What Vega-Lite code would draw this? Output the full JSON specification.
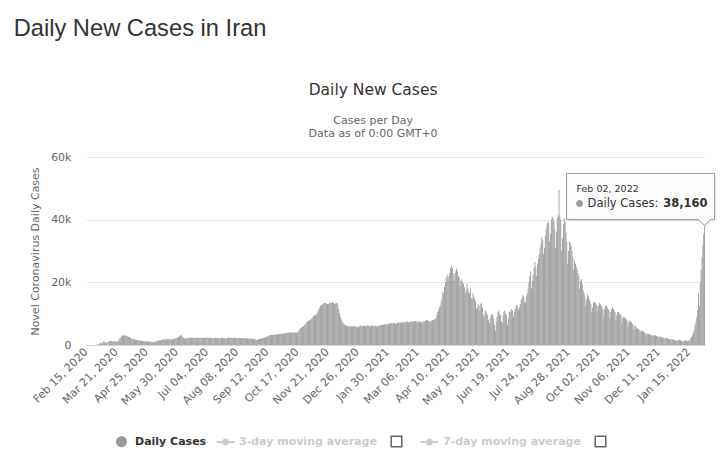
{
"$schema":"https://vega.github.io/schema/vega-lite/v6.json",
"background":"white",
"padding":{"left":13,"top":16,"right":0,"bottom":0},
"config":{"view":{"stroke":null},"font":"DejaVu Sans"},
"title":{"text":"Daily New Cases in Iran","anchor":"start","font":"Liberation Sans","fontSize":23.7,"fontWeight":"normal","color":"#333333","dx":-16,"offset":42},
"vconcat":[{
"width":619,"height":188,
"title":{"text":"Daily New Cases","subtitle":["Cases per Day","Data as of 0:00 GMT+0"],"font":"DejaVu Sans","fontSize":15.5,"fontWeight":"normal","color":"#333333","subtitleFont":"DejaVu Sans","subtitleFontSize":11,"subtitleColor":"#666666","subtitlePadding":17,"anchor":"middle","frame":"bounds","offset":12},
"data":{"values":[
{"d":"2020-02-15","c":0},{"d":"2020-02-16","c":0},{"d":"2020-02-17","c":0},{"d":"2020-02-18","c":0},{"d":"2020-02-19","c":2},{"d":"2020-02-20","c":3},{"d":"2020-02-21","c":13},{"d":"2020-02-22","c":10},{"d":"2020-02-23","c":15},{"d":"2020-02-24","c":18},{"d":"2020-02-25","c":34},{"d":"2020-02-26","c":44},{"d":"2020-02-27","c":106},{"d":"2020-02-28","c":143},{"d":"2020-02-29","c":205},
{"d":"2020-03-01","c":385},{"d":"2020-03-02","c":523},{"d":"2020-03-03","c":835},{"d":"2020-03-04","c":586},{"d":"2020-03-05","c":591},{"d":"2020-03-06","c":1234},{"d":"2020-03-07","c":1076},{"d":"2020-03-08","c":743},{"d":"2020-03-09","c":595},{"d":"2020-03-10","c":881},{"d":"2020-03-11","c":958},{"d":"2020-03-12","c":1075},{"d":"2020-03-13","c":1289},{"d":"2020-03-14","c":1365},{"d":"2020-03-15","c":1209},{"d":"2020-03-16","c":1053},{"d":"2020-03-17","c":1178},{"d":"2020-03-18","c":1192},{"d":"2020-03-19","c":1046},{"d":"2020-03-20","c":1237},{"d":"2020-03-21","c":966},{"d":"2020-03-22","c":1028},{"d":"2020-03-23","c":1411},{"d":"2020-03-24","c":1762},{"d":"2020-03-25","c":2206},{"d":"2020-03-26","c":2389},{"d":"2020-03-27","c":2926},{"d":"2020-03-28","c":3076},{"d":"2020-03-29","c":2901},{"d":"2020-03-30","c":3186},{"d":"2020-03-31","c":3110},
{"d":"2020-04-01","c":2987},{"d":"2020-04-02","c":2875},{"d":"2020-04-03","c":2715},{"d":"2020-04-04","c":2560},{"d":"2020-04-05","c":2483},{"d":"2020-04-06","c":2274},{"d":"2020-04-07","c":2089},{"d":"2020-04-08","c":1997},{"d":"2020-04-09","c":1634},{"d":"2020-04-10","c":1972},{"d":"2020-04-11","c":1837},{"d":"2020-04-12","c":1657},{"d":"2020-04-13","c":1617},{"d":"2020-04-14","c":1574},{"d":"2020-04-15","c":1512},{"d":"2020-04-16","c":1606},{"d":"2020-04-17","c":1499},{"d":"2020-04-18","c":1374},{"d":"2020-04-19","c":1343},{"d":"2020-04-20","c":1294},{"d":"2020-04-21","c":1297},{"d":"2020-04-22","c":1194},{"d":"2020-04-23","c":1030},{"d":"2020-04-24","c":1134},{"d":"2020-04-25","c":1168},{"d":"2020-04-26","c":1153},{"d":"2020-04-27","c":1144},{"d":"2020-04-28","c":991},{"d":"2020-04-29","c":1112},{"d":"2020-04-30","c":1073},
{"d":"2020-05-01","c":1000},{"d":"2020-05-02","c":950},{"d":"2020-05-03","c":850},{"d":"2020-05-04","c":900},{"d":"2020-05-05","c":1000},{"d":"2020-05-06","c":1100},{"d":"2020-05-07","c":1300},{"d":"2020-05-08","c":1400},{"d":"2020-05-09","c":1500},{"d":"2020-05-10","c":1400},{"d":"2020-05-11","c":1500},{"d":"2020-05-12","c":1600},{"d":"2020-05-13","c":1700},{"d":"2020-05-14","c":1800},{"d":"2020-05-15","c":1900},{"d":"2020-05-16","c":1800},{"d":"2020-05-17","c":1700},{"d":"2020-05-18","c":1800},{"d":"2020-05-19","c":1900},{"d":"2020-05-20","c":1800},{"d":"2020-05-21","c":1900},{"d":"2020-05-22","c":1800},{"d":"2020-05-23","c":1800},{"d":"2020-05-24","c":1700},{"d":"2020-05-25","c":1800},{"d":"2020-05-26","c":1900},{"d":"2020-05-27","c":2000},{"d":"2020-05-28","c":2000},{"d":"2020-05-29","c":2200},{"d":"2020-05-30","c":2300},{"d":"2020-05-31","c":2400},
{"d":"2020-06-01","c":2600},{"d":"2020-06-02","c":2800},{"d":"2020-06-03","c":3000},{"d":"2020-06-04","c":3200},{"d":"2020-06-05","c":2900},{"d":"2020-06-06","c":2500},{"d":"2020-06-07","c":2300},{"d":"2020-06-08","c":2100},{"d":"2020-06-09","c":2100},{"d":"2020-06-10","c":2100},{"d":"2020-06-11","c":2200},{"d":"2020-06-12","c":2300},{"d":"2020-06-13","c":2300},{"d":"2020-06-14","c":2300},{"d":"2020-06-15","c":2300},{"d":"2020-06-16","c":2400},{"d":"2020-06-17","c":2300},{"d":"2020-06-18","c":2300},{"d":"2020-06-19","c":2300},{"d":"2020-06-20","c":2200},{"d":"2020-06-21","c":2200},{"d":"2020-06-22","c":2300},{"d":"2020-06-23","c":2300},{"d":"2020-06-24","c":2200},{"d":"2020-06-25","c":2300},{"d":"2020-06-26","c":2200},{"d":"2020-06-27","c":2300},{"d":"2020-06-28","c":2300},{"d":"2020-06-29","c":2200},{"d":"2020-06-30","c":2200},
{"d":"2020-07-01","c":2300},{"d":"2020-07-02","c":2350},{"d":"2020-07-03","c":2400},{"d":"2020-07-04","c":2300},{"d":"2020-07-05","c":2350},{"d":"2020-07-06","c":2250},{"d":"2020-07-07","c":2350},{"d":"2020-07-08","c":2400},{"d":"2020-07-09","c":2300},{"d":"2020-07-10","c":2200},{"d":"2020-07-11","c":2150},{"d":"2020-07-12","c":2100},{"d":"2020-07-13","c":2200},{"d":"2020-07-14","c":2300},{"d":"2020-07-15","c":2200},{"d":"2020-07-16","c":2200},{"d":"2020-07-17","c":2300},{"d":"2020-07-18","c":2100},{"d":"2020-07-19","c":2100},{"d":"2020-07-20","c":2200},{"d":"2020-07-21","c":2350},{"d":"2020-07-22","c":2300},{"d":"2020-07-23","c":2300},{"d":"2020-07-24","c":2200},{"d":"2020-07-25","c":2150},{"d":"2020-07-26","c":2150},{"d":"2020-07-27","c":2100},{"d":"2020-07-28","c":2300},{"d":"2020-07-29","c":2300},{"d":"2020-07-30","c":2200},{"d":"2020-07-31","c":2300},
{"d":"2020-08-01","c":2300},{"d":"2020-08-02","c":2300},{"d":"2020-08-03","c":2200},{"d":"2020-08-04","c":2300},{"d":"2020-08-05","c":2200},{"d":"2020-08-06","c":2300},{"d":"2020-08-07","c":2200},{"d":"2020-08-08","c":2100},{"d":"2020-08-09","c":2200},{"d":"2020-08-10","c":2300},{"d":"2020-08-11","c":2200},{"d":"2020-08-12","c":2200},{"d":"2020-08-13","c":2100},{"d":"2020-08-14","c":2200},{"d":"2020-08-15","c":2200},{"d":"2020-08-16","c":2100},{"d":"2020-08-17","c":2200},{"d":"2020-08-18","c":2200},{"d":"2020-08-19","c":2100},{"d":"2020-08-20","c":2100},{"d":"2020-08-21","c":2100},{"d":"2020-08-22","c":2000},{"d":"2020-08-23","c":2000},{"d":"2020-08-24","c":2100},{"d":"2020-08-25","c":2000},{"d":"2020-08-26","c":2000},{"d":"2020-08-27","c":1900},{"d":"2020-08-28","c":1900},{"d":"2020-08-29","c":1800},{"d":"2020-08-30","c":1700},{"d":"2020-08-31","c":1600},
{"d":"2020-09-01","c":1700},{"d":"2020-09-02","c":1800},{"d":"2020-09-03","c":1900},{"d":"2020-09-04","c":2000},{"d":"2020-09-05","c":2100},{"d":"2020-09-06","c":2100},{"d":"2020-09-07","c":2200},{"d":"2020-09-08","c":2300},{"d":"2020-09-09","c":2400},{"d":"2020-09-10","c":2500},{"d":"2020-09-11","c":2600},{"d":"2020-09-12","c":2700},{"d":"2020-09-13","c":2900},{"d":"2020-09-14","c":3000},{"d":"2020-09-15","c":3100},{"d":"2020-09-16","c":3200},{"d":"2020-09-17","c":3300},{"d":"2020-09-18","c":3200},{"d":"2020-09-19","c":3300},{"d":"2020-09-20","c":3400},{"d":"2020-09-21","c":3300},{"d":"2020-09-22","c":3400},{"d":"2020-09-23","c":3300},{"d":"2020-09-24","c":3400},{"d":"2020-09-25","c":3500},{"d":"2020-09-26","c":3400},{"d":"2020-09-27","c":3500},{"d":"2020-09-28","c":3600},{"d":"2020-09-29","c":3700},{"d":"2020-09-30","c":3600},
{"d":"2020-10-01","c":3700},{"d":"2020-10-02","c":3600},{"d":"2020-10-03","c":3700},{"d":"2020-10-04","c":3900},{"d":"2020-10-05","c":3800},{"d":"2020-10-06","c":3900},{"d":"2020-10-07","c":4000},{"d":"2020-10-08","c":3900},{"d":"2020-10-09","c":4100},{"d":"2020-10-10","c":3800},{"d":"2020-10-11","c":3900},{"d":"2020-10-12","c":4000},{"d":"2020-10-13","c":4100},{"d":"2020-10-14","c":4000},{"d":"2020-10-15","c":3900},{"d":"2020-10-16","c":4000},{"d":"2020-10-17","c":4000},{"d":"2020-10-18","c":4200},{"d":"2020-10-19","c":4700},{"d":"2020-10-20","c":5200},{"d":"2020-10-21","c":5400},{"d":"2020-10-22","c":5600},{"d":"2020-10-23","c":5800},{"d":"2020-10-24","c":6000},{"d":"2020-10-25","c":6300},{"d":"2020-10-26","c":6600},{"d":"2020-10-27","c":6900},{"d":"2020-10-28","c":7300},{"d":"2020-10-29","c":7600},{"d":"2020-10-30","c":7700},{"d":"2020-10-31","c":7800},
{"d":"2020-11-01","c":8000},{"d":"2020-11-02","c":8300},{"d":"2020-11-03","c":8600},{"d":"2020-11-04","c":8900},{"d":"2020-11-05","c":9300},{"d":"2020-11-06","c":9500},{"d":"2020-11-07","c":9400},{"d":"2020-11-08","c":9800},{"d":"2020-11-09","c":10300},{"d":"2020-11-10","c":10800},{"d":"2020-11-11","c":11500},{"d":"2020-11-12","c":12000},{"d":"2020-11-13","c":12500},{"d":"2020-11-14","c":12800},{"d":"2020-11-15","c":13000},{"d":"2020-11-16","c":13200},{"d":"2020-11-17","c":13400},{"d":"2020-11-18","c":13300},{"d":"2020-11-19","c":13400},{"d":"2020-11-20","c":13200},{"d":"2020-11-21","c":13100},{"d":"2020-11-22","c":13000},{"d":"2020-11-23","c":13300},{"d":"2020-11-24","c":13600},{"d":"2020-11-25","c":13400},{"d":"2020-11-26","c":13500},{"d":"2020-11-27","c":13700},{"d":"2020-11-28","c":13400},{"d":"2020-11-29","c":13100},{"d":"2020-11-30","c":13300},
{"d":"2020-12-01","c":13500},{"d":"2020-12-02","c":13400},{"d":"2020-12-03","c":13000},{"d":"2020-12-04","c":11500},{"d":"2020-12-05","c":10200},{"d":"2020-12-06","c":9000},{"d":"2020-12-07","c":8200},{"d":"2020-12-08","c":7500},{"d":"2020-12-09","c":7000},{"d":"2020-12-10","c":6700},{"d":"2020-12-11","c":6500},{"d":"2020-12-12","c":6300},{"d":"2020-12-13","c":6200},{"d":"2020-12-14","c":6100},{"d":"2020-12-15","c":6000},{"d":"2020-12-16","c":6000},{"d":"2020-12-17","c":5900},{"d":"2020-12-18","c":5950},{"d":"2020-12-19","c":6000},{"d":"2020-12-20","c":5900},{"d":"2020-12-21","c":6000},{"d":"2020-12-22","c":6100},{"d":"2020-12-23","c":5900},{"d":"2020-12-24","c":6000},{"d":"2020-12-25","c":5800},{"d":"2020-12-26","c":5700},{"d":"2020-12-27","c":5800},{"d":"2020-12-28","c":5900},{"d":"2020-12-29","c":6100},{"d":"2020-12-30","c":6200},{"d":"2020-12-31","c":6000},
{"d":"2021-01-01","c":6000},{"d":"2021-01-02","c":6100},{"d":"2021-01-03","c":6200},{"d":"2021-01-04","c":5900},{"d":"2021-01-05","c":6100},{"d":"2021-01-06","c":6200},{"d":"2021-01-07","c":6300},{"d":"2021-01-08","c":6100},{"d":"2021-01-09","c":6000},{"d":"2021-01-10","c":5800},{"d":"2021-01-11","c":6200},{"d":"2021-01-12","c":6300},{"d":"2021-01-13","c":6100},{"d":"2021-01-14","c":6000},{"d":"2021-01-15","c":6200},{"d":"2021-01-16","c":6100},{"d":"2021-01-17","c":5900},{"d":"2021-01-18","c":6000},{"d":"2021-01-19","c":6200},{"d":"2021-01-20","c":6100},{"d":"2021-01-21","c":6300},{"d":"2021-01-22","c":6500},{"d":"2021-01-23","c":6400},{"d":"2021-01-24","c":6300},{"d":"2021-01-25","c":6500},{"d":"2021-01-26","c":6600},{"d":"2021-01-27","c":6700},{"d":"2021-01-28","c":6500},{"d":"2021-01-29","c":6600},{"d":"2021-01-30","c":6700},{"d":"2021-01-31","c":6800},
{"d":"2021-02-01","c":6800},{"d":"2021-02-02","c":6900},{"d":"2021-02-03","c":7000},{"d":"2021-02-04","c":6900},{"d":"2021-02-05","c":6800},{"d":"2021-02-06","c":7100},{"d":"2021-02-07","c":7000},{"d":"2021-02-08","c":6700},{"d":"2021-02-09","c":6900},{"d":"2021-02-10","c":7100},{"d":"2021-02-11","c":7200},{"d":"2021-02-12","c":7000},{"d":"2021-02-13","c":7100},{"d":"2021-02-14","c":7300},{"d":"2021-02-15","c":7200},{"d":"2021-02-16","c":7100},{"d":"2021-02-17","c":7400},{"d":"2021-02-18","c":7300},{"d":"2021-02-19","c":7200},{"d":"2021-02-20","c":7300},{"d":"2021-02-21","c":7400},{"d":"2021-02-22","c":7500},{"d":"2021-02-23","c":7200},{"d":"2021-02-24","c":7300},{"d":"2021-02-25","c":7400},{"d":"2021-02-26","c":7600},{"d":"2021-02-27","c":7500},{"d":"2021-02-28","c":7400},
{"d":"2021-03-01","c":7500},{"d":"2021-03-02","c":7600},{"d":"2021-03-03","c":7700},{"d":"2021-03-04","c":7500},{"d":"2021-03-05","c":7400},{"d":"2021-03-06","c":7600},{"d":"2021-03-07","c":7300},{"d":"2021-03-08","c":7500},{"d":"2021-03-09","c":7400},{"d":"2021-03-10","c":7300},{"d":"2021-03-11","c":7200},{"d":"2021-03-12","c":7500},{"d":"2021-03-13","c":7400},{"d":"2021-03-14","c":7600},{"d":"2021-03-15","c":7800},{"d":"2021-03-16","c":7900},{"d":"2021-03-17","c":8000},{"d":"2021-03-18","c":7700},{"d":"2021-03-19","c":7600},{"d":"2021-03-20","c":7400},{"d":"2021-03-21","c":7500},{"d":"2021-03-22","c":7800},{"d":"2021-03-23","c":8000},{"d":"2021-03-24","c":7900},{"d":"2021-03-25","c":8100},{"d":"2021-03-26","c":8300},{"d":"2021-03-27","c":8600},{"d":"2021-03-28","c":9600},{"d":"2021-03-29","c":10500},{"d":"2021-03-30","c":11000},{"d":"2021-03-31","c":12000},
{"d":"2021-04-01","c":12500},{"d":"2021-04-02","c":14000},{"d":"2021-04-03","c":15000},{"d":"2021-04-04","c":17000},{"d":"2021-04-05","c":16500},{"d":"2021-04-06","c":18500},{"d":"2021-04-07","c":20000},{"d":"2021-04-08","c":21500},{"d":"2021-04-09","c":22500},{"d":"2021-04-10","c":20500},{"d":"2021-04-11","c":22000},{"d":"2021-04-12","c":23000},{"d":"2021-04-13","c":24500},{"d":"2021-04-14","c":25300},{"d":"2021-04-15","c":24500},{"d":"2021-04-16","c":23000},{"d":"2021-04-17","c":20500},{"d":"2021-04-18","c":22500},{"d":"2021-04-19","c":23500},{"d":"2021-04-20","c":24500},{"d":"2021-04-21","c":23500},{"d":"2021-04-22","c":22000},{"d":"2021-04-23","c":21500},{"d":"2021-04-24","c":19000},{"d":"2021-04-25","c":20500},{"d":"2021-04-26","c":21000},{"d":"2021-04-27","c":20000},{"d":"2021-04-28","c":19500},{"d":"2021-04-29","c":18500},{"d":"2021-04-30","c":16500},
{"d":"2021-05-01","c":17500},{"d":"2021-05-02","c":19500},{"d":"2021-05-03","c":18000},{"d":"2021-05-04","c":17000},{"d":"2021-05-05","c":16500},{"d":"2021-05-06","c":18000},{"d":"2021-05-07","c":15000},{"d":"2021-05-08","c":14500},{"d":"2021-05-09","c":16500},{"d":"2021-05-10","c":15500},{"d":"2021-05-11","c":15000},{"d":"2021-05-12","c":14000},{"d":"2021-05-13","c":11500},{"d":"2021-05-14","c":12000},{"d":"2021-05-15","c":13000},{"d":"2021-05-16","c":12500},{"d":"2021-05-17","c":11000},{"d":"2021-05-18","c":13000},{"d":"2021-05-19","c":13500},{"d":"2021-05-20","c":12000},{"d":"2021-05-21","c":9500},{"d":"2021-05-22","c":9000},{"d":"2021-05-23","c":10500},{"d":"2021-05-24","c":11000},{"d":"2021-05-25","c":10000},{"d":"2021-05-26","c":9500},{"d":"2021-05-27","c":8000},{"d":"2021-05-28","c":7000},{"d":"2021-05-29","c":8500},{"d":"2021-05-30","c":9500},{"d":"2021-05-31","c":10000},
{"d":"2021-06-01","c":9500},{"d":"2021-06-02","c":8500},{"d":"2021-06-03","c":6500},{"d":"2021-06-04","c":4500},{"d":"2021-06-05","c":7500},{"d":"2021-06-06","c":9000},{"d":"2021-06-07","c":10500},{"d":"2021-06-08","c":11000},{"d":"2021-06-09","c":10000},{"d":"2021-06-10","c":9500},{"d":"2021-06-11","c":7500},{"d":"2021-06-12","c":7000},{"d":"2021-06-13","c":9500},{"d":"2021-06-14","c":10500},{"d":"2021-06-15","c":11000},{"d":"2021-06-16","c":10000},{"d":"2021-06-17","c":9500},{"d":"2021-06-18","c":6500},{"d":"2021-06-19","c":8500},{"d":"2021-06-20","c":10500},{"d":"2021-06-21","c":11000},{"d":"2021-06-22","c":10500},{"d":"2021-06-23","c":11500},{"d":"2021-06-24","c":11000},{"d":"2021-06-25","c":9000},{"d":"2021-06-26","c":10500},{"d":"2021-06-27","c":11500},{"d":"2021-06-28","c":12500},{"d":"2021-06-29","c":12800},{"d":"2021-06-30","c":12000},
{"d":"2021-07-01","c":11000},{"d":"2021-07-02","c":12000},{"d":"2021-07-03","c":13000},{"d":"2021-07-04","c":14500},{"d":"2021-07-05","c":15000},{"d":"2021-07-06","c":16000},{"d":"2021-07-07","c":15500},{"d":"2021-07-08","c":14000},{"d":"2021-07-09","c":13500},{"d":"2021-07-10","c":15500},{"d":"2021-07-11","c":16500},{"d":"2021-07-12","c":18000},{"d":"2021-07-13","c":20000},{"d":"2021-07-14","c":22000},{"d":"2021-07-15","c":23500},{"d":"2021-07-16","c":18000},{"d":"2021-07-17","c":20500},{"d":"2021-07-18","c":22500},{"d":"2021-07-19","c":24500},{"d":"2021-07-20","c":26500},{"d":"2021-07-21","c":25000},{"d":"2021-07-22","c":22000},{"d":"2021-07-23","c":26000},{"d":"2021-07-24","c":27500},{"d":"2021-07-25","c":29000},{"d":"2021-07-26","c":31000},{"d":"2021-07-27","c":32500},{"d":"2021-07-28","c":34500},{"d":"2021-07-29","c":33500},{"d":"2021-07-30","c":29000},{"d":"2021-07-31","c":31000},
{"d":"2021-08-01","c":35000},{"d":"2021-08-02","c":37000},{"d":"2021-08-03","c":38500},{"d":"2021-08-04","c":39500},{"d":"2021-08-05","c":39000},{"d":"2021-08-06","c":33000},{"d":"2021-08-07","c":35500},{"d":"2021-08-08","c":40000},{"d":"2021-08-09","c":41000},{"d":"2021-08-10","c":40500},{"d":"2021-08-11","c":39500},{"d":"2021-08-12","c":37000},{"d":"2021-08-13","c":31000},{"d":"2021-08-14","c":36000},{"d":"2021-08-15","c":40500},{"d":"2021-08-16","c":41500},{"d":"2021-08-17","c":49500},{"d":"2021-08-18","c":41000},{"d":"2021-08-19","c":40000},{"d":"2021-08-20","c":30000},{"d":"2021-08-21","c":34000},{"d":"2021-08-22","c":38500},{"d":"2021-08-23","c":40500},{"d":"2021-08-24","c":39500},{"d":"2021-08-25","c":36000},{"d":"2021-08-26","c":33000},{"d":"2021-08-27","c":26000},{"d":"2021-08-28","c":30000},{"d":"2021-08-29","c":33000},{"d":"2021-08-30","c":32500},{"d":"2021-08-31","c":31500},
{"d":"2021-09-01","c":30000},{"d":"2021-09-02","c":28000},{"d":"2021-09-03","c":24000},{"d":"2021-09-04","c":27000},{"d":"2021-09-05","c":26000},{"d":"2021-09-06","c":25000},{"d":"2021-09-07","c":24000},{"d":"2021-09-08","c":23000},{"d":"2021-09-09","c":22000},{"d":"2021-09-10","c":18000},{"d":"2021-09-11","c":20500},{"d":"2021-09-12","c":21000},{"d":"2021-09-13","c":19500},{"d":"2021-09-14","c":17500},{"d":"2021-09-15","c":16500},{"d":"2021-09-16","c":15500},{"d":"2021-09-17","c":12500},{"d":"2021-09-18","c":14500},{"d":"2021-09-19","c":16000},{"d":"2021-09-20","c":15500},{"d":"2021-09-21","c":14500},{"d":"2021-09-22","c":14000},{"d":"2021-09-23","c":13000},{"d":"2021-09-24","c":10500},{"d":"2021-09-25","c":12000},{"d":"2021-09-26","c":13500},{"d":"2021-09-27","c":13800},{"d":"2021-09-28","c":13500},{"d":"2021-09-29","c":13000},{"d":"2021-09-30","c":12500},
{"d":"2021-10-01","c":11000},{"d":"2021-10-02","c":12500},{"d":"2021-10-03","c":13500},{"d":"2021-10-04","c":13000},{"d":"2021-10-05","c":12500},{"d":"2021-10-06","c":12000},{"d":"2021-10-07","c":11500},{"d":"2021-10-08","c":9000},{"d":"2021-10-09","c":11500},{"d":"2021-10-10","c":12500},{"d":"2021-10-11","c":12500},{"d":"2021-10-12","c":12000},{"d":"2021-10-13","c":11500},{"d":"2021-10-14","c":11000},{"d":"2021-10-15","c":8500},{"d":"2021-10-16","c":10500},{"d":"2021-10-17","c":11500},{"d":"2021-10-18","c":12000},{"d":"2021-10-19","c":11500},{"d":"2021-10-20","c":11000},{"d":"2021-10-21","c":10500},{"d":"2021-10-22","c":8000},{"d":"2021-10-23","c":9500},{"d":"2021-10-24","c":10500},{"d":"2021-10-25","c":10500},{"d":"2021-10-26","c":10000},{"d":"2021-10-27","c":9800},{"d":"2021-10-28","c":9500},{"d":"2021-10-29","c":7000},{"d":"2021-10-30","c":8500},{"d":"2021-10-31","c":9000},
{"d":"2021-11-01","c":8800},{"d":"2021-11-02","c":8500},{"d":"2021-11-03","c":8200},{"d":"2021-11-04","c":7800},{"d":"2021-11-05","c":6000},{"d":"2021-11-06","c":7200},{"d":"2021-11-07","c":7800},{"d":"2021-11-08","c":7600},{"d":"2021-11-09","c":7200},{"d":"2021-11-10","c":6800},{"d":"2021-11-11","c":6500},{"d":"2021-11-12","c":5000},{"d":"2021-11-13","c":6000},{"d":"2021-11-14","c":6300},{"d":"2021-11-15","c":5500},{"d":"2021-11-16","c":5200},{"d":"2021-11-17","c":5000},{"d":"2021-11-18","c":4800},{"d":"2021-11-19","c":3800},{"d":"2021-11-20","c":4500},{"d":"2021-11-21","c":4700},{"d":"2021-11-22","c":4400},{"d":"2021-11-23","c":4200},{"d":"2021-11-24","c":4000},{"d":"2021-11-25","c":3900},{"d":"2021-11-26","c":3000},{"d":"2021-11-27","c":3500},{"d":"2021-11-28","c":3700},{"d":"2021-11-29","c":3500},{"d":"2021-11-30","c":3400},
{"d":"2021-12-01","c":3300},{"d":"2021-12-02","c":3200},{"d":"2021-12-03","c":2600},{"d":"2021-12-04","c":3000},{"d":"2021-12-05","c":3200},{"d":"2021-12-06","c":3100},{"d":"2021-12-07","c":3000},{"d":"2021-12-08","c":2900},{"d":"2021-12-09","c":2800},{"d":"2021-12-10","c":2200},{"d":"2021-12-11","c":2600},{"d":"2021-12-12","c":2700},{"d":"2021-12-13","c":2600},{"d":"2021-12-14","c":2500},{"d":"2021-12-15","c":2400},{"d":"2021-12-16","c":2300},{"d":"2021-12-17","c":1800},{"d":"2021-12-18","c":2200},{"d":"2021-12-19","c":2300},{"d":"2021-12-20","c":2200},{"d":"2021-12-21","c":2100},{"d":"2021-12-22","c":2000},{"d":"2021-12-23","c":1900},{"d":"2021-12-24","c":1500},{"d":"2021-12-25","c":1800},{"d":"2021-12-26","c":1900},{"d":"2021-12-27","c":1800},{"d":"2021-12-28","c":1700},{"d":"2021-12-29","c":1600},{"d":"2021-12-30","c":1500},{"d":"2021-12-31","c":1300},
{"d":"2022-01-01","c":1500},{"d":"2022-01-02","c":1400},{"d":"2022-01-03","c":1600},{"d":"2022-01-04","c":1700},{"d":"2022-01-05","c":1500},{"d":"2022-01-06","c":1400},{"d":"2022-01-07","c":1300},{"d":"2022-01-08","c":1200},{"d":"2022-01-09","c":1300},{"d":"2022-01-10","c":1400},{"d":"2022-01-11","c":1500},{"d":"2022-01-12","c":1400},{"d":"2022-01-13","c":1300},{"d":"2022-01-14","c":1200},{"d":"2022-01-15","c":1500},{"d":"2022-01-16","c":1700},{"d":"2022-01-17","c":2200},{"d":"2022-01-18","c":2600},{"d":"2022-01-19","c":3200},{"d":"2022-01-20","c":4000},{"d":"2022-01-21","c":5000},{"d":"2022-01-22","c":6500},{"d":"2022-01-23","c":7500},{"d":"2022-01-24","c":9000},{"d":"2022-01-25","c":11000},{"d":"2022-01-26","c":16500},{"d":"2022-01-27","c":12500},{"d":"2022-01-28","c":20000},{"d":"2022-01-29","c":24000},{"d":"2022-01-30","c":28000},{"d":"2022-01-31","c":32000},
{"d":"2022-02-01","c":35500},{"d":"2022-02-02","c":38160}
]},
"encoding":{
 "x":{"field":"d","type":"ordinal","scale":{"type":"band","paddingInner":0,"paddingOuter":0},
  "axis":{"title":null,"values":["2020-02-15","2020-03-21","2020-04-25","2020-05-30","2020-07-04","2020-08-08","2020-09-12","2020-10-17","2020-11-21","2020-12-26","2021-01-30","2021-03-06","2021-04-10","2021-05-15","2021-06-19","2021-07-24","2021-08-28","2021-10-02","2021-11-06","2021-12-11","2022-01-15"],
   "labelExpr":"utcFormat(toDate(datum.value), '%b %d, %Y')","labelAngle":-45,"labelAlign":"right","labelBaseline":"middle","labelFont":"DejaVu Sans","labelFontSize":11,"labelColor":"#666666","labelPadding":5,"ticks":false,"domainColor":"#ccd6eb","domainWidth":1,"grid":false,"labelOverlap":false,"labelBound":false,"labelFlush":false}},
 "y":{"field":"c","type":"quantitative","scale":{"domain":[0,60000]},
  "axis":{"title":"Novel Coronavirus Daily Cases","titleFont":"DejaVu Sans","titleFontSize":11,"titleFontWeight":"normal","titleColor":"#666666","titlePadding":10,"values":[0,20000,40000,60000],"labelExpr":"datum.value == 0 ? '0' : (datum.value / 1000) + 'k'","labelFont":"DejaVu Sans","labelFontSize":11,"labelColor":"#666666","labelPadding":15,"ticks":false,"domain":false,"gridColor":"#e6e6e6","gridWidth":1}}
},
"layer":[
 {"mark":{"type":"bar"},
  "encoding":{"color":{"datum":"Daily Cases","type":"nominal",
   "scale":{"domain":["Daily Cases","3-day moving average","cb1","7-day moving average","cb2"],"range":["#999999","#cccccc","#666666","#cccccc","#666666"]},
   "legend":{"title":null,"orient":"none","legendX":25.5,"legendY":274,"direction":"horizontal","symbolSize":324,"labelFont":"DejaVu Sans","labelFontSize":11,"labelFontWeight":"bold","labelColor":"#333333","labelOffset":3.5,"columnPadding":9,
    "labelExpr":"indexof(datum.label,'cb')==0 ? '' : datum.label",
    "encode":{"symbols":{"update":{"shape":{"signal":"datum.value == 'Daily Cases' ? 'M-0.61,0A0.61,0.61,0,1,1,0.61,0A0.61,0.61,0,1,1,-0.61,0Z' : (indexof(datum.value,'cb') == 0 ? 'M-0.67,-0.67H0.67V0.67H-0.67Z M-0.5,-0.5V0.5H0.5V-0.5Z' : 'M-1,-0.11H1V0.11H-1Z M-0.39,0A0.39,0.39,0,1,1,0.39,0A0.39,0.39,0,1,1,-0.39,0Z')"}}},
     "labels":{"update":{"fill":{"signal":"datum.value == 'Daily Cases' ? '#333333' : '#cccccc'"}}}}}}}},
 {"transform":[{"filter":"datum.d == '2022-02-02'"}],
  "mark":{"type":"point","shape":"M-136,-50H12V-4H8L2,2L-4,-4H-136Z","size":4,"filled":true,"color":"#000000","opacity":0.07}},
 {"transform":[{"filter":"datum.d == '2022-02-02'"}],
  "mark":{"type":"point","shape":"M-138,-52H10V-6H6L0,0L-6,-6H-138Z","size":4,"filled":true,"fill":"#fbfbfb","stroke":"#999999","strokeWidth":1,"opacity":1}},
 {"transform":[{"filter":"datum.d == '2022-02-02'"}],
  "mark":{"type":"point","shape":"M-128.5,-22A3.5,3.5,0,1,0,-121.5,-22A3.5,3.5,0,1,0,-128.5,-22Z","size":4,"filled":true,"fill":"#999999","opacity":1}},
 {"transform":[{"filter":"datum.d == '2022-02-02'"},{"calculate":"utcFormat(toDate(datum.d), '%b %d, %Y')","as":"lab"}],
  "mark":{"type":"text","align":"left","baseline":"alphabetic","dx":-128,"dy":-33,"font":"DejaVu Sans","fontSize":9.5,"color":"#333333"},
  "encoding":{"text":{"field":"lab"}}},
 {"transform":[{"filter":"datum.d == '2022-02-02'"}],
  "mark":{"type":"text","align":"left","baseline":"alphabetic","dx":-117,"dy":-18,"font":"DejaVu Sans","fontSize":11.5,"color":"#333333","text":"Daily Cases:"}},
 {"transform":[{"filter":"datum.d == '2022-02-02'"}],
  "mark":{"type":"text","align":"right","baseline":"alphabetic","dx":3,"dy":-18,"font":"DejaVu Sans","fontSize":11.5,"fontWeight":"bold","color":"#333333"},
  "encoding":{"text":{"field":"c","type":"quantitative","format":","}}}
]
}]
}
